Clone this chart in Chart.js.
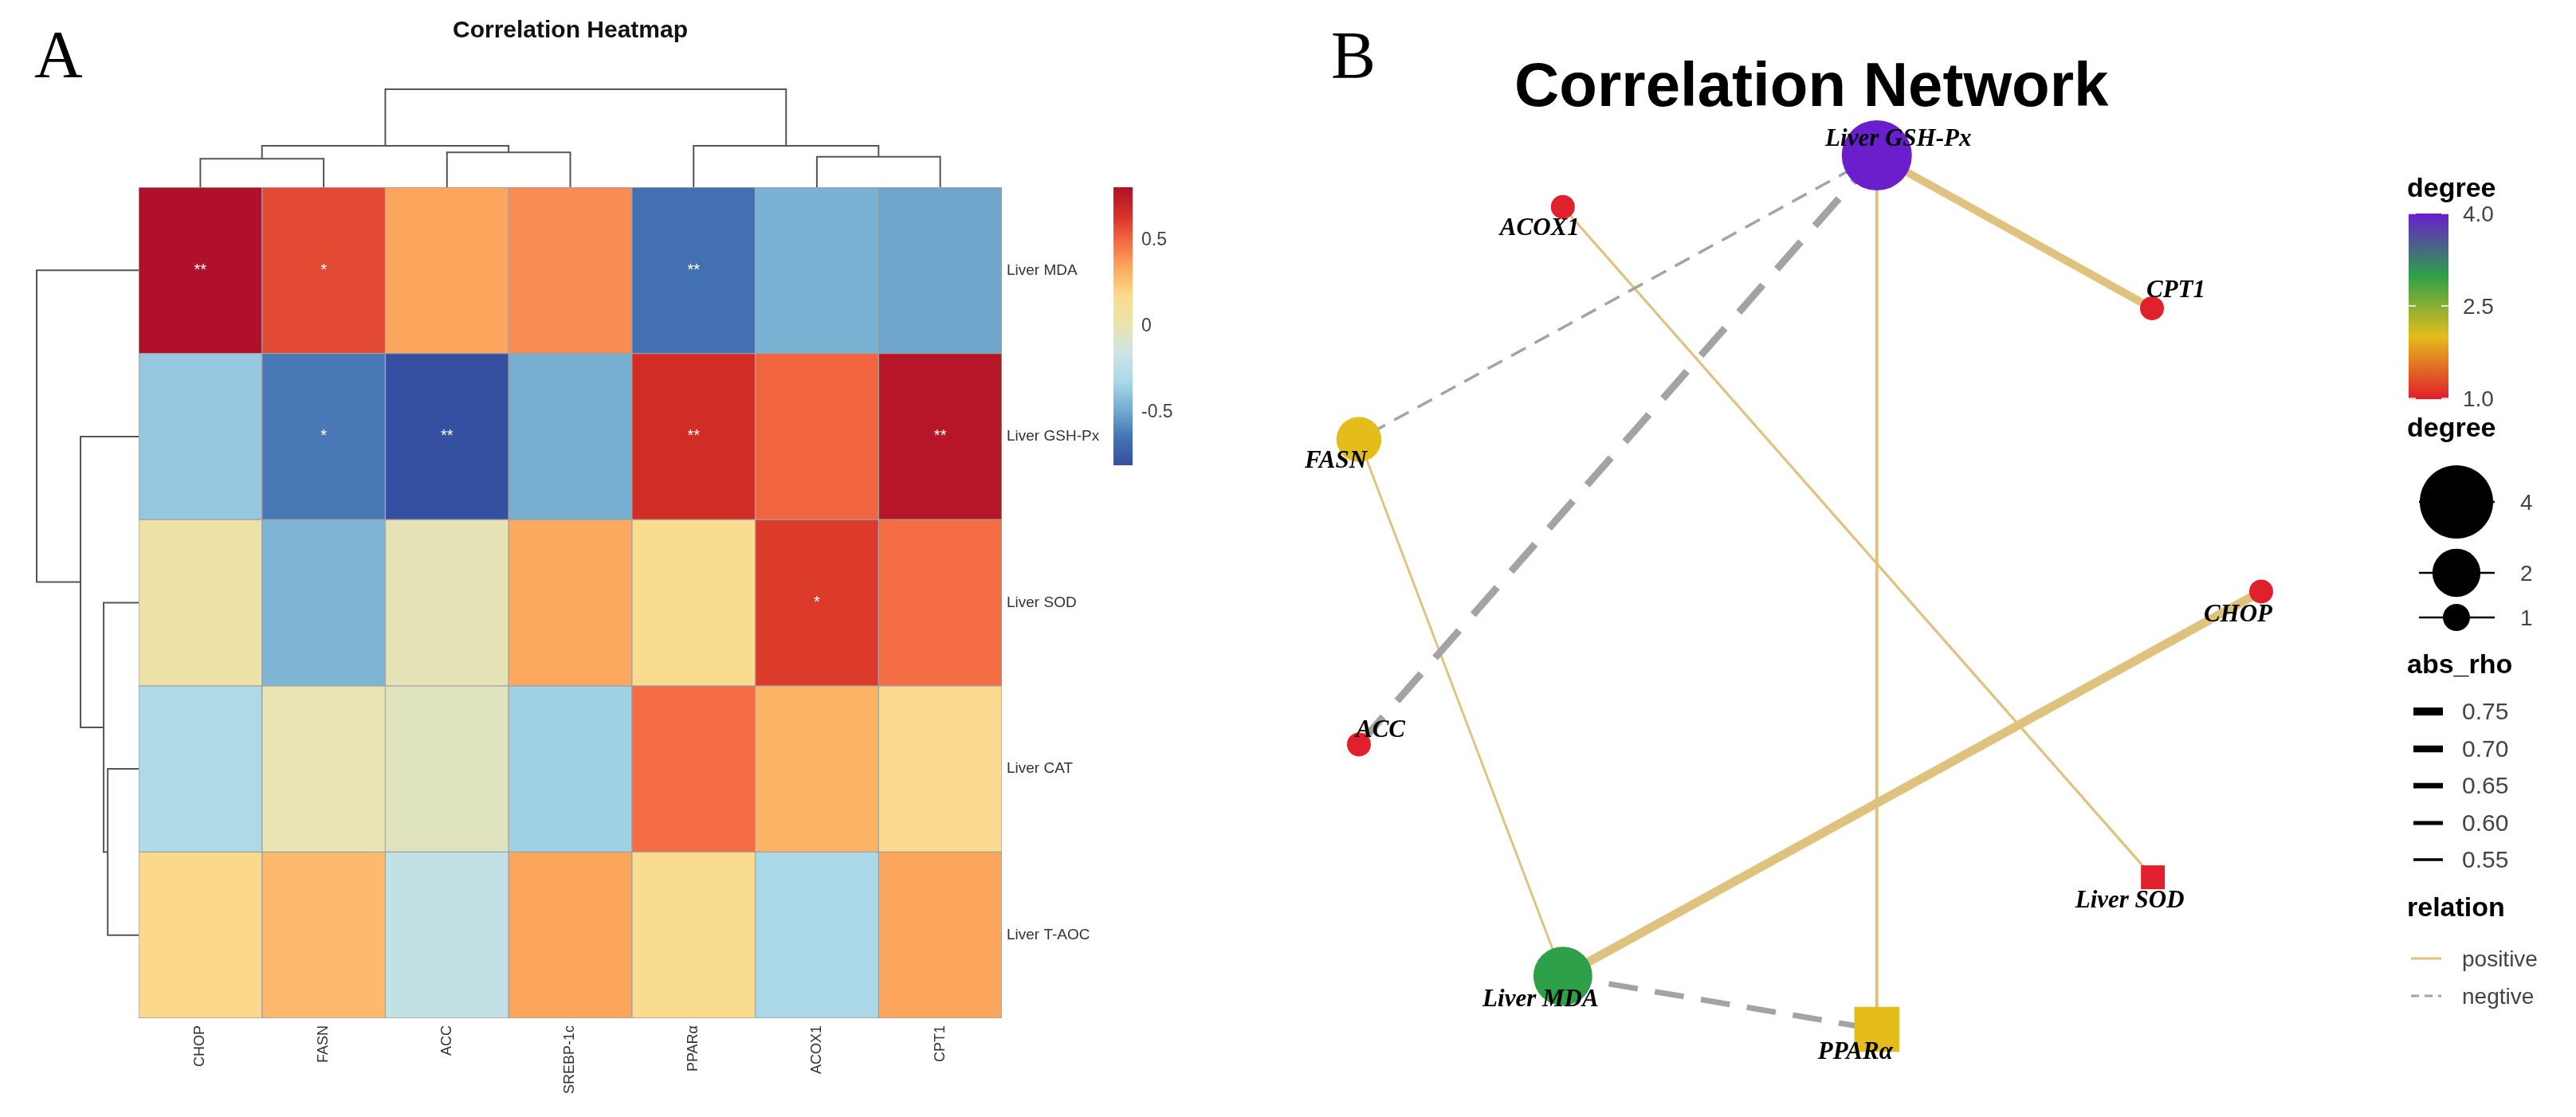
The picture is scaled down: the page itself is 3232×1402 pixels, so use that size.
<!DOCTYPE html>
<html>
<head>
<meta charset="utf-8">
<script src="https://cdn.jsdelivr.net/npm/chart.js@4.4.1/dist/chart.umd.min.js"></script>
<style>
  body { margin: 0; background: #fff; width: 3232px; height: 1402px; overflow: hidden; position: relative; }
  canvas { position: absolute; top: 0; }
  #heat { left: 0; }
  #net { left: 1600px; }
</style>
</head>
<body>
<canvas id="heat" width="1600" height="1402"></canvas>
<canvas id="net" width="1632" height="1402"></canvas>
<script>
'use strict';

// ---- heatmap data (spearman rho) ----
const geneLabels = ['CHOP', 'FASN', 'ACC', 'SREBP-1c', 'PPARα', 'ACOX1', 'CPT1'];
const indexLabels = ['Liver MDA', 'Liver GSH-Px', 'Liver SOD', 'Liver CAT', 'Liver T-AOC'];
const rhoMDA = [0.81, 0.58, 0.35, 0.41, -0.66, -0.46, -0.50];
const rhoGSH = [-0.38, -0.63, -0.80, -0.47, 0.67, 0.51, 0.78];
const rhoSOD = [0.04, -0.45, -0.02, 0.34, 0.16, 0.62, 0.49];
const rhoCAT = [-0.30, -0.01, -0.05, -0.35, 0.49, 0.31, 0.17];
const rhoTAOC = [0.18, 0.29, -0.20, 0.35, 0.16, -0.32, 0.35];
const sigMDA = ['**', '*', '', '', '**', '', ''];
const sigGSH = ['', '*', '**', '', '**', '', '**'];
const sigSOD = ['', '', '', '', '', '*', ''];
const sigCAT = ['', '', '', '', '', '', ''];
const sigTAOC = ['', '', '', '', '', '', ''];
const heatTicks = [0.5, 0, -0.5];

// hclust results (merge order like R, heights)
const colMerge = [[-1, -2], [-3, -4], [-6, -7], [1, 2], [-5, 3], [4, 5]];
const colHeight = [0.87, 1.07, 0.93, 1.27, 1.27, 3.0];
const rowMerge = [[-4, -5], [-3, 1], [-2, 2], [-1, 3]];
const rowHeight = [0.91, 1.03, 1.71, 3.0];

// ---- network data ----
const nodeNames = ['Liver GSH-Px', 'ACOX1', 'CPT1', 'FASN', 'ACC', 'CHOP', 'Liver SOD', 'Liver MDA', 'PPARα'];
const nodeX = [0.574, 0.226, 0.879, 0, 0, 1, 0.880, 0.226, 0.574];
const nodeY = [1, 0.941, 0.825, 0.675, 0.326, 0.501, 0.174, 0.061, 0];
const nodeShape = ['circle', 'circle', 'circle', 'circle', 'circle', 'circle', 'rect', 'circle', 'rect'];
const edgeFrom = ['Liver GSH-Px', 'Liver GSH-Px', 'Liver GSH-Px', 'Liver GSH-Px', 'ACOX1', 'FASN', 'Liver MDA', 'Liver MDA'];
const edgeTo = ['FASN', 'ACC', 'CPT1', 'PPARα', 'Liver SOD', 'Liver MDA', 'CHOP', 'PPARα'];
const edgeRho = [0.55, 0.72, 0.75, 0.565, 0.54, 0.53, 0.78, 0.66];
const edgeRelation = ['negtive', 'negtive', 'positive', 'positive', 'positive', 'positive', 'positive', 'negtive'];
const degreeTicks = [4.0, 2.5, 1.0];
const degreeSizes = [4, 2, 1];
const rhoBreaks = [0.75, 0.70, 0.65, 0.60, 0.55];

Chart.defaults.font.family = '"Liberation Sans", Arial, sans-serif';

const heatRows = [rhoMDA, rhoGSH, rhoSOD, rhoCAT, rhoTAOC];
const sigRows = [sigMDA, sigGSH, sigSOD, sigCAT, sigTAOC];
const allRho = heatRows.flat();
const vmin = Math.min(...allRho);
const vmax = Math.max(...allRho);
const heatPalette = ['#3550A0', '#4575B4', '#74ADD1', '#ABD9E9', '#CBE4E4', '#EAE3AD',
  '#FBDC90', '#FDAE61', '#F46D43', '#D73027', '#B0102A'];

function hexRgb(h) {
  return [1, 3, 5].map(i => parseInt(h.slice(i, i + 2), 16));
}

function rampColor(stops, t) {
  t = Math.max(0, Math.min(1, t));
  const p = t * (stops.length - 1);
  const i = Math.min(Math.floor(p), stops.length - 2);
  const f = p - i;
  const a = hexRgb(stops[i]);
  const b = hexRgb(stops[i + 1]);
  const c = a.map((v, k) => Math.round(v + (b[k] - v) * f));
  return `rgb(${c[0]},${c[1]},${c[2]})`;
}

function heatColor(v) {
  return rampColor(heatPalette, (v - vmin) / (vmax - vmin));
}

// draws an hclust tree; place(pos, h) -> [x, y]
function drawTree(ctx, merge, heights, leafPos, place) {
  const nodes = [];
  const get = m => (m < 0 ? { pos: leafPos(-m - 1), h: 0 } : nodes[m - 1]);
  merge.forEach((pair, k) => {
    const a = get(pair[0]);
    const b = get(pair[1]);
    const h = heights[k];
    ctx.beginPath();
    let p = place(a.pos, a.h); ctx.moveTo(p[0], p[1]);
    p = place(a.pos, h); ctx.lineTo(p[0], p[1]);
    p = place(b.pos, h); ctx.lineTo(p[0], p[1]);
    p = place(b.pos, b.h); ctx.lineTo(p[0], p[1]);
    ctx.stroke();
    nodes.push({ pos: (a.pos + b.pos) / 2, h: h });
  });
}

const heatDecor = {
  id: 'heatDecor',
  afterDraw(chart) {
    const ctx = chart.ctx;
    const area = chart.chartArea;
    const xs = chart.scales.x;
    const ys = chart.scales.y;
    ctx.save();

    // significance marks
    ctx.fillStyle = '#fff';
    ctx.font = '20px "Liberation Sans", Arial, sans-serif';
    ctx.textAlign = 'center';
    ctx.textBaseline = 'middle';
    sigRows.forEach((row, r) => {
      row.forEach((s, c) => {
        if (s) ctx.fillText(s, xs.getPixelForValue(c), ys.getPixelForValue(r + 0.5));
      });
    });

    // dendrograms
    ctx.strokeStyle = '#555';
    ctx.lineWidth = 2;
    const colRoot = Math.max(...colHeight);
    drawTree(ctx, colMerge, colHeight, i => xs.getPixelForValue(i),
      (pos, h) => [pos, area.top - h / colRoot * 123]);
    const rowRoot = Math.max(...rowHeight);
    drawTree(ctx, rowMerge, rowHeight, i => ys.getPixelForValue(i + 0.5),
      (pos, h) => [area.left - h / rowRoot * 128, pos]);

    // colour key
    const cbX = 1397, cbW = 24, cbTop = area.top, cbBot = area.top + 348;
    const steps = 100;
    for (let i = 0; i < steps; i++) {
      const v = vmax - (vmax - vmin) * (i + 0.5) / steps;
      ctx.fillStyle = heatColor(v);
      ctx.fillRect(cbX, cbTop + (cbBot - cbTop) * i / steps, cbW, (cbBot - cbTop) / steps + 1);
    }
    ctx.fillStyle = '#444';
    ctx.font = '23px "Liberation Sans", Arial, sans-serif';
    ctx.textAlign = 'left';
    heatTicks.forEach(t => {
      const y = cbTop + (vmax - t) / (vmax - vmin) * (cbBot - cbTop);
      ctx.fillText(String(t), cbX + cbW + 11, y);
    });

    // titles
    ctx.fillStyle = '#111';
    ctx.textAlign = 'center';
    ctx.textBaseline = 'alphabetic';
    ctx.font = 'bold 30px "Liberation Sans", Arial, sans-serif';
    ctx.fillText('Correlation Heatmap', (area.left + area.right) / 2, 47);
    ctx.fillStyle = '#000';
    ctx.textAlign = 'left';
    ctx.font = '84px "Liberation Serif", "Times New Roman", serif';
    ctx.fillText('A', 43, 97);
    ctx.restore();
  }
};

new Chart(document.getElementById('heat'), {
  type: 'bar',
  data: {
    labels: geneLabels,
    datasets: heatRows.map((vals, r) => ({
      label: indexLabels[r],
      data: vals.map(() => [r, r + 1]),
      backgroundColor: vals.map(heatColor),
      borderColor: '#a0a0a0',
      borderWidth: 1,
      borderSkipped: false,
      grouped: false,
      barPercentage: 1,
      categoryPercentage: 1
    }))
  },
  options: {
    responsive: false,
    animation: false,
    devicePixelRatio: 1,
    layout: { padding: { left: 174, top: 235, right: 0, bottom: 0 } },
    plugins: { legend: { display: false }, tooltip: { enabled: false } },
    scales: {
      x: {
        position: 'bottom',
        grid: { display: false, drawTicks: false },
        border: { display: false },
        ticks: { minRotation: 90, maxRotation: 90, autoSkip: false, padding: 9, color: '#333', font: { size: 18 } },
        afterFit: s => { s.height = 124; }
      },
      y: {
        position: 'right',
        min: 0,
        max: 5,
        reverse: true,
        grid: { display: false, drawTicks: false },
        border: { display: false },
        afterBuildTicks: s => { s.ticks = indexLabels.map((_, i) => ({ value: i + 0.5 })); },
        ticks: { callback: v => indexLabels[Math.floor(v)], color: '#333', font: { size: 19 }, padding: 6 },
        afterFit: s => { s.width = 343; }
      }
    }
  },
  plugins: [heatDecor]
});

// ---- network ----
const degColors = ['#E0202C', '#E4BC1C', '#2EA04A', '#6A1ECC'];
const posColor = '#DFC27D';
const negColor = '#A3A3A3';

const degree = nodeNames.map(n => edgeFrom.filter(e => e === n).length + edgeTo.filter(e => e === n).length);
const degMin = 1, degMax = 4;
const degColor = d => rampColor(degColors, (d - degMin) / (degMax - degMin));
const degRadius = d => Math.sqrt(15 * 15 + (d - degMin) / (degMax - degMin) * (44 * 44 - 15 * 15));
const rhoWidth = r => 3.5 + (r - 0.55) * 32.5;
const dashFor = w => [4.5 * w + 5, 2.5 * w + 4];

const labelDx = [27, -29, 30, -29, 27, -29, -29, -28, -27];
const labelDy = [-12, 35, -14, 35, -9, 38, 38, 38, 37];

const edgeSets = edgeFrom.map((f, k) => {
  const a = nodeNames.indexOf(f);
  const b = nodeNames.indexOf(edgeTo[k]);
  const w = rhoWidth(edgeRho[k]);
  const neg = edgeRelation[k] === 'negtive';
  return {
    type: 'line',
    data: [{ x: nodeX[a], y: nodeY[a] }, { x: nodeX[b], y: nodeY[b] }],
    showLine: true,
    borderColor: neg ? negColor : posColor,
    borderWidth: w,
    borderDash: neg ? dashFor(w) : [],
    borderCapStyle: 'butt',
    pointRadius: 0,
    tension: 0,
    clip: false,
    order: 1
  };
});

const netDecor = {
  id: 'netDecor',
  afterDatasetsDraw(chart) {
    const ctx = chart.ctx;
    const xs = chart.scales.x;
    const ys = chart.scales.y;
    ctx.save();
    ctx.fillStyle = '#000';
    ctx.font = 'italic bold 31px "Liberation Serif", "Times New Roman", serif';
    ctx.textAlign = 'center';
    ctx.textBaseline = 'alphabetic';
    nodeNames.forEach((n, i) => {
      ctx.fillText(n, xs.getPixelForValue(nodeX[i]) + labelDx[i], ys.getPixelForValue(nodeY[i]) + labelDy[i]);
    });
    ctx.restore();
  },
  afterDraw(chart) {
    const ctx = chart.ctx;
    const ox = -1600;
    ctx.save();
    ctx.textBaseline = 'alphabetic';
    ctx.textAlign = 'left';

    // panel letter and title
    ctx.fillStyle = '#000';
    ctx.font = '84px "Liberation Serif", "Times New Roman", serif';
    ctx.fillText('B', 1670 + ox, 98);
    ctx.font = 'bold 78px "Liberation Sans", Arial, sans-serif';
    ctx.fillText('Correlation Network', 1900 + ox, 133);

    const lx = 3020 + ox;
    const titleFont = 'bold 34px "Liberation Sans", Arial, sans-serif';
    const labFont = '28px "Liberation Sans", Arial, sans-serif';

    // degree colour bar
    ctx.font = titleFont;
    ctx.fillStyle = '#000';
    ctx.fillText('degree', lx, 247);
    const cbTop = 268, cbBot = 500, cbX = 3022 + ox, cbW = 50;
    for (let i = 0; i < 100; i++) {
      const d = degMax - (degMax - degMin) * (i + 0.5) / 100;
      ctx.fillStyle = degColor(d);
      ctx.fillRect(cbX, cbTop + (cbBot - cbTop) * i / 100, cbW, (cbBot - cbTop) / 100 + 1);
    }
    ctx.font = labFont;
    ctx.textBaseline = 'middle';
    degreeTicks.forEach(t => {
      const y = cbTop + (degMax - t) / (degMax - degMin) * (cbBot - cbTop);
      ctx.strokeStyle = '#fff';
      ctx.lineWidth = 1.5;
      ctx.beginPath();
      ctx.moveTo(cbX, y); ctx.lineTo(cbX + 9, y);
      ctx.moveTo(cbX + cbW - 9, y); ctx.lineTo(cbX + cbW, y);
      ctx.stroke();
      ctx.fillStyle = '#444';
      ctx.fillText(t.toFixed(1), 3090 + ox, y + 2);
    });

    // degree size legend
    ctx.textBaseline = 'alphabetic';
    ctx.font = titleFont;
    ctx.fillStyle = '#000';
    ctx.fillText('degree', lx, 548);
    const sizeY = [630, 719, 775];
    degreeSizes.forEach((d, i) => {
      const cx = 3082 + ox;
      ctx.strokeStyle = '#000';
      ctx.lineWidth = 2.5;
      ctx.beginPath();
      ctx.moveTo(3035 + ox, sizeY[i]); ctx.lineTo(3130 + ox, sizeY[i]);
      ctx.stroke();
      ctx.fillStyle = '#000';
      ctx.beginPath();
      ctx.arc(cx, sizeY[i], degRadius(d) + 2, 0, Math.PI * 2);
      ctx.fill();
      ctx.fillStyle = '#444';
      ctx.font = labFont;
      ctx.textBaseline = 'middle';
      ctx.fillText(String(d), 3162 + ox, sizeY[i] + 2);
      ctx.textBaseline = 'alphabetic';
    });

    // abs_rho legend
    ctx.font = titleFont;
    ctx.fillStyle = '#000';
    ctx.fillText('abs_rho', lx, 845);
    const rhoY = [893, 940, 986, 1033, 1079];
    rhoBreaks.forEach((r, i) => {
      ctx.strokeStyle = '#000';
      ctx.lineWidth = rhoWidth(r);
      ctx.beginPath();
      ctx.moveTo(3028 + ox, rhoY[i]); ctx.lineTo(3065 + ox, rhoY[i]);
      ctx.stroke();
      ctx.fillStyle = '#444';
      ctx.font = '30px "Liberation Sans", Arial, sans-serif';
      ctx.textBaseline = 'middle';
      ctx.fillText(r.toFixed(2), 3089 + ox, rhoY[i] + 2);
      ctx.textBaseline = 'alphabetic';
    });

    // relation legend
    ctx.font = titleFont;
    ctx.fillStyle = '#000';
    ctx.fillText('relation', lx, 1150);
    const relY = [1203, 1250];
    ['positive', 'negtive'].forEach((rel, i) => {
      ctx.strokeStyle = rel === 'positive' ? posColor : negColor;
      ctx.lineWidth = 3;
      ctx.setLineDash(rel === 'positive' ? [] : [10, 7]);
      ctx.beginPath();
      ctx.moveTo(3025 + ox, relY[i]); ctx.lineTo(3063 + ox, relY[i]);
      ctx.stroke();
      ctx.setLineDash([]);
      ctx.fillStyle = '#444';
      ctx.font = labFont;
      ctx.textBaseline = 'middle';
      ctx.fillText(rel, 3089 + ox, relY[i] + 2);
      ctx.textBaseline = 'alphabetic';
    });
    ctx.restore();
  }
};

new Chart(document.getElementById('net'), {
  type: 'scatter',
  data: {
    datasets: edgeSets.concat([{
      type: 'scatter',
      data: nodeNames.map((n, i) => ({ x: nodeX[i], y: nodeY[i] })),
      pointStyle: nodeShape,
      pointRadius: degree.map((d, i) => nodeShape[i] === 'rect' ? degRadius(d) * Math.SQRT2 : degRadius(d)),
      backgroundColor: degree.map(degColor),
      borderWidth: 0,
      clip: false,
      order: 0
    }])
  },
  options: {
    responsive: false,
    animation: false,
    devicePixelRatio: 1,
    layout: { padding: { left: 105, right: 395, top: 195, bottom: 110 } },
    plugins: { legend: { display: false }, tooltip: { enabled: false } },
    scales: {
      x: { type: 'linear', min: 0, max: 1, display: false },
      y: { type: 'linear', min: 0, max: 1, display: false }
    }
  },
  plugins: [netDecor]
});
</script>
</body>
</html>
